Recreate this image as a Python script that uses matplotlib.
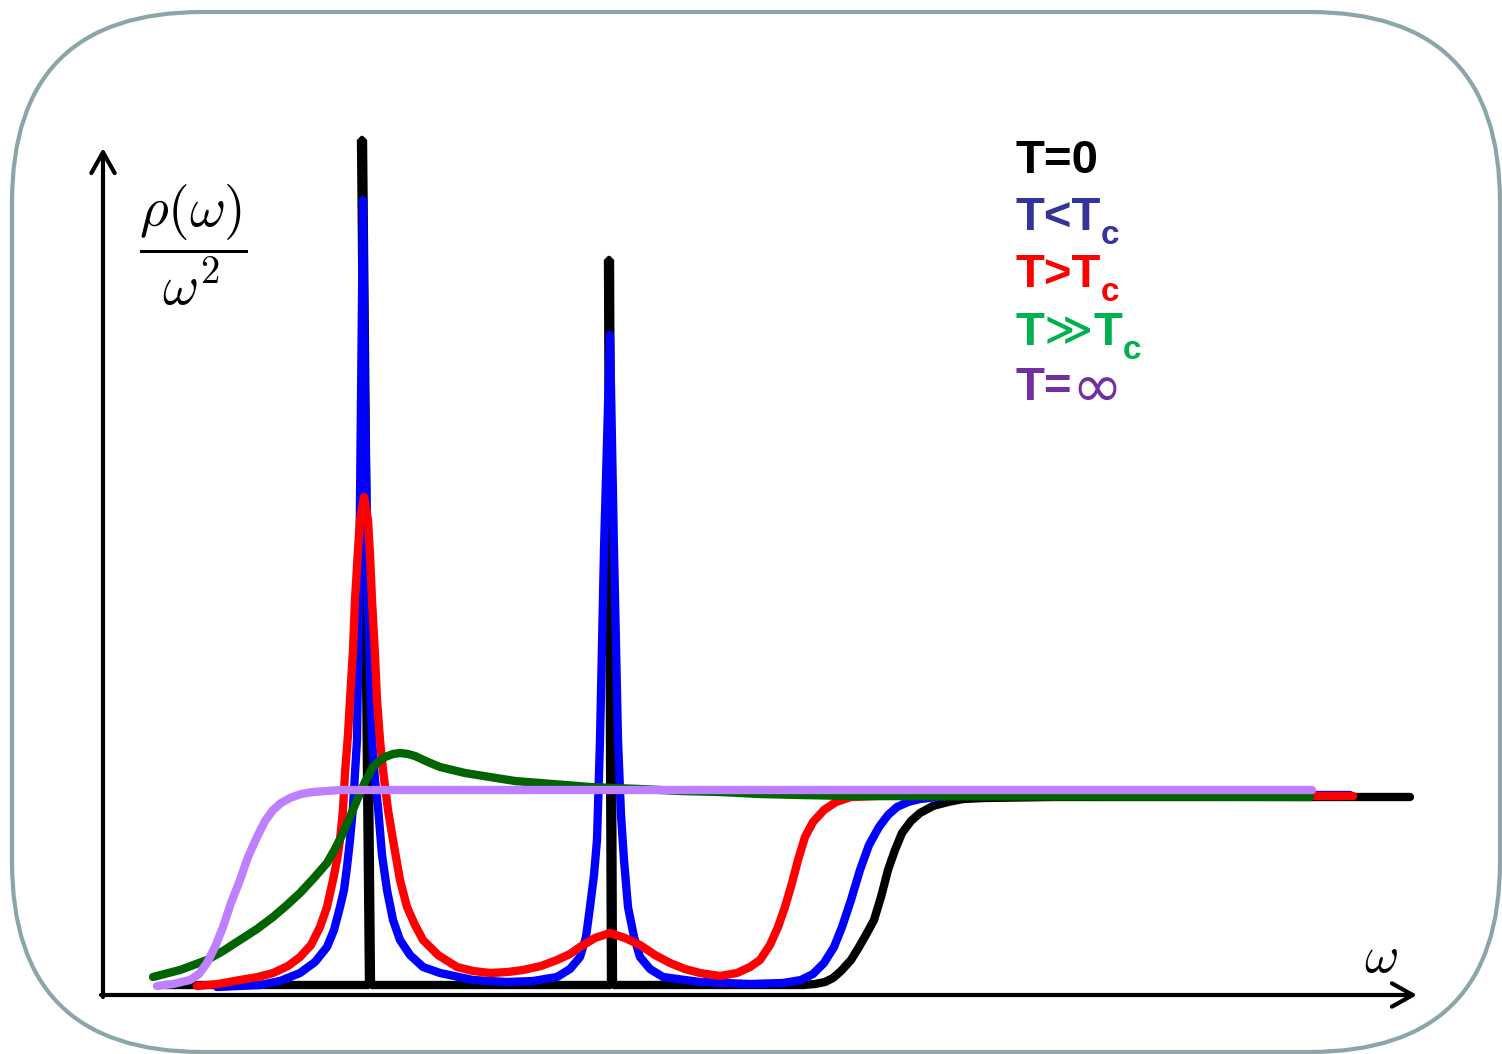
import matplotlib
matplotlib.use('Agg')
import matplotlib.pyplot as plt
from matplotlib.patches import FancyBboxPatch

plt.rcParams['mathtext.fontset'] = 'cm'

# spectral function rho(w)/w^2 (arbitrary units)
t0_w = [0.62, 2.66, 2.58, 2.60, 2.68, 5.08, 5.05, 5.07, 5.10, 7.00, 7.12, 7.22, 7.30,
        7.38, 7.48, 7.56, 7.64, 7.71, 7.78, 7.85, 7.92, 7.99, 8.08, 8.17, 8.30, 8.45,
        8.60, 8.81, 9.50, 13.07]
t0_rho = [0.10, 0.10, 8.55, 8.55, 0.10, 0.10, 7.35, 7.35, 0.10, 0.10, 0.11, 0.13, 0.17,
          0.24, 0.35, 0.48, 0.62, 0.75, 0.98, 1.25, 1.45, 1.62, 1.74, 1.82, 1.89, 1.93,
          1.96, 1.97, 1.98, 1.98]

below_w = [1.14, 1.57, 1.77, 1.97, 2.12, 2.24, 2.31, 2.37, 2.41, 2.44, 2.47, 2.50, 2.54,
           2.56, 2.58, 2.60, 2.62, 2.65, 2.69, 2.72, 2.75, 2.79, 2.84, 2.90, 2.97, 3.07,
           3.20, 3.37, 3.70, 4.04, 4.30, 4.54, 4.67, 4.77, 4.83, 4.87, 4.91, 4.94, 4.97,
           5.01, 5.07, 5.11, 5.15, 5.18, 5.21, 5.25, 5.31, 5.37, 5.47, 5.60, 5.97, 6.47,
           6.80, 6.98, 7.10, 7.21, 7.31, 7.39, 7.48, 7.57, 7.66, 7.76, 7.85, 7.94, 8.05,
           8.17, 8.35, 8.57, 12.47]
below_rho = [0.08, 0.10, 0.14, 0.22, 0.33, 0.48, 0.65, 0.88, 1.05, 1.28, 1.55, 1.88, 2.55,
             3.95, 5.95, 7.95, 5.95, 3.95, 2.55, 2.15, 1.88, 1.40, 1.05, 0.75, 0.55, 0.40,
             0.28, 0.22, 0.15, 0.13, 0.14, 0.18, 0.26, 0.38, 0.58, 0.88, 1.20, 1.55, 2.55,
             4.45, 6.60, 4.45, 2.55, 1.80, 1.35, 0.88, 0.58, 0.38, 0.26, 0.18, 0.13, 0.11,
             0.12, 0.15, 0.21, 0.32, 0.48, 0.68, 0.95, 1.25, 1.50, 1.68, 1.80, 1.88, 1.93,
             1.96, 1.98, 2.00, 2.00]

above_w = [0.94, 1.15, 1.37, 1.55, 1.70, 1.85, 1.97, 2.08, 2.17, 2.24, 2.30, 2.34, 2.37,
           2.40, 2.42, 2.45, 2.47, 2.50, 2.52, 2.55, 2.57, 2.61, 2.65, 2.67, 2.69, 2.72,
           2.74, 2.77, 2.80, 2.85, 2.90, 2.97, 3.04, 3.12, 3.20, 3.35, 3.54, 3.70, 3.87,
           4.05, 4.20, 4.38, 4.54, 4.67, 4.77, 4.92, 5.07, 5.22, 5.37, 5.52, 5.67, 5.82,
           5.97, 6.17, 6.34, 6.47, 6.57, 6.67, 6.75, 6.82, 6.89, 6.95, 7.02, 7.10, 7.21,
           7.33, 7.48, 7.77, 12.50]
above_rho = [0.09, 0.11, 0.15, 0.18, 0.22, 0.29, 0.38, 0.50, 0.68, 0.88, 1.15, 1.35, 1.55,
             1.85, 2.22, 2.60, 2.95, 3.45, 3.95, 4.45, 4.75, 4.98, 4.75, 4.40, 3.95, 3.40,
             2.95, 2.55, 2.25, 1.85, 1.55, 1.15, 0.88, 0.70, 0.55, 0.40, 0.28, 0.24, 0.22,
             0.23, 0.25, 0.29, 0.35, 0.41, 0.48, 0.57, 0.62, 0.57, 0.50, 0.40, 0.32, 0.26,
             0.22, 0.19, 0.22, 0.28, 0.35, 0.50, 0.68, 0.88, 1.12, 1.35, 1.58, 1.73, 1.85,
             1.93, 1.98, 1.99, 1.99]

high_w = [0.50, 0.77, 1.04, 1.20, 1.37, 1.54, 1.70, 1.84, 1.97, 2.10, 2.24, 2.32, 2.40,
          2.47, 2.54, 2.62, 2.70, 2.76, 2.82, 2.90, 2.97, 3.05, 3.12, 3.25, 3.37, 3.62,
          3.87, 4.12, 4.37, 4.62, 4.87, 5.37, 5.77, 6.17, 6.57, 6.97, 7.47, 7.97, 12.07]
high_rho = [0.18, 0.25, 0.35, 0.44, 0.55, 0.66, 0.78, 0.90, 1.02, 1.16, 1.32, 1.46, 1.62,
            1.78, 1.95, 2.13, 2.28, 2.34, 2.38, 2.41, 2.42, 2.41, 2.39, 2.33, 2.28, 2.22,
            2.18, 2.14, 2.12, 2.10, 2.08, 2.06, 2.04, 2.03, 2.01, 2.00, 1.99, 1.99, 1.98]

inf_w = [0.54, 0.70, 0.87, 0.96, 1.04, 1.12, 1.20, 1.28, 1.37, 1.45, 1.54, 1.62, 1.70,
         1.78, 1.87, 1.98, 2.10, 2.37, 12.09]
inf_rho = [0.09, 0.11, 0.15, 0.21, 0.32, 0.48, 0.68, 0.92, 1.15, 1.38, 1.58, 1.74, 1.85,
           1.92, 1.97, 2.01, 2.03, 2.05, 2.05]

# legend entries: pieces of (text, weight, size, family, baseline shift in pt)
BOLD = ('bold', 34, 'Liberation Sans', 0)
SUB = ('bold', 24, 'Liberation Sans', -10)
labels = [
    [('T=0',) + BOLD],
    [('T<T',) + BOLD, ('c',) + SUB],
    [('T>T',) + BOLD, ('c',) + SUB],
    [('T',) + BOLD, ('\u226b', 'normal', 34, 'DejaVu Sans', 0), ('T',) + BOLD, ('c',) + SUB],
    [('T=',) + BOLD, ('\u221e', 'normal', 44, 'DejaVu Sans', -6)],
]
label_colors = ['#000000', '#333399', '#ff0000', '#00b050', '#7030a0']
label_y = [8.22, 7.65, 7.08, 6.50, 5.95]

fig = plt.figure(figsize=(15.02, 10.54), dpi=100)
ax = fig.add_axes([0, 0, 1, 1])
ax.set_xlim(-1.03, 13.99)
ax.set_ylim(-0.59, 9.95)
ax.axis('off')

# rounded frame
frame = FancyBboxPatch((-0.91, -0.57), 14.88, 10.40,
                       boxstyle='round,pad=0,rounding_size=1.9',
                       fc='none', ec='#8ca5a8', lw=3, clip_on=False)
ax.add_patch(frame)

# axes arrows
arrow = dict(arrowstyle='->,head_length=0.5,head_width=0.28', lw=3,
             color='black', mutation_scale=30, shrinkA=0, shrinkB=0)
ax.annotate('', xy=(0, 8.47), xytext=(0, -0.02), arrowprops=arrow)
ax.annotate('', xy=(13.14, 0), xytext=(-0.02, 0), arrowprops=arrow)

lw = 6
ax.plot(t0_w, t0_rho, color='black', lw=lw, solid_joinstyle='bevel',
        solid_capstyle='round')
ax.plot(below_w, below_rho, color='#0000ff', lw=lw, solid_capstyle='round')
ax.plot(above_w, above_rho, color='#ff0000', lw=lw, solid_capstyle='round')
ax.plot(high_w, high_rho, color='#006400', lw=lw, solid_capstyle='round')
ax.plot(inf_w, inf_rho, color='#bf80ff', lw=lw, solid_capstyle='round')

ax.text(0.90, 7.50, r'$\dfrac{\rho(\omega)}{\omega^2}$', fontsize=40,
        ha='center', va='center')
ax.text(12.78, 0.38, r'$\omega$', fontsize=38, ha='center', va='center')

# legend text, piece by piece on a common baseline
renderer = fig.canvas.get_renderer()
inv = ax.transData.inverted()
for pieces, col, y in zip(labels, label_colors, label_y):
    x = 9.12
    for txt, weight, size, fam, dy in pieces:
        t = ax.text(x, y + dy / 72, txt, fontsize=size,
                    fontweight=weight, color=col, family=[fam, 'DejaVu Sans'],
                    va='baseline', ha='left')
        bb = t.get_window_extent(renderer)
        x = inv.transform((bb.x1, bb.y0))[0]

fig.savefig('out.png', dpi=100)
